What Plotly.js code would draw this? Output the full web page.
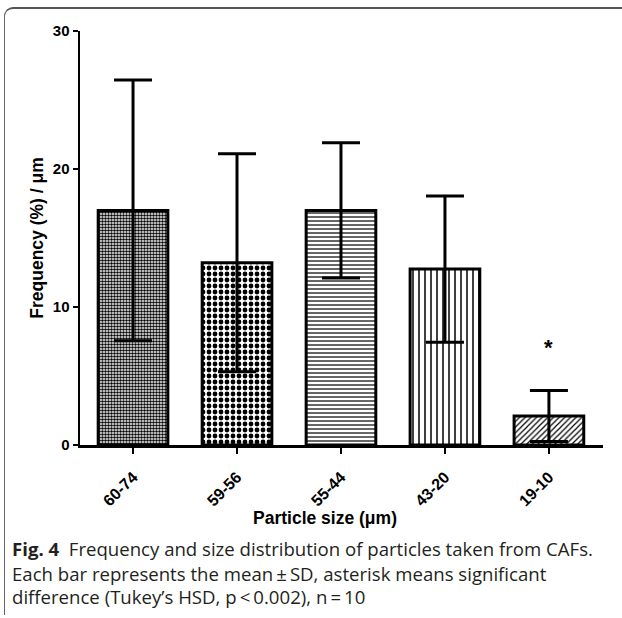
<!DOCTYPE html>
<html><head><meta charset="utf-8">
<script src="https://cdn.plot.ly/plotly-3.0.1.min.js"></script>
<style>
html,body{margin:0;padding:0;background:#fff;overflow:hidden}
#chart{width:622px;height:618px;position:absolute;left:0;top:0}
#frame{position:absolute;left:4px;top:7px;width:700px;height:606px;border-left:1.5px solid #666;border-top:2px solid #555;border-top-left-radius:9px;pointer-events:none}
</style></head><body>
<div id="chart"></div><div id="frame"></div>
<script>
// ---- data ----
const categories = ['60-74', '59-56', '55-44', '43-20', '19-10'];
const meanFrequency = [17.0, 13.2, 17.0, 12.75, 2.1];
const sdFrequency = [9.45, 7.9, 4.9, 5.3, 1.85];
const yTickValues = [0, 10, 20, 30];
const significantCategory = '19-10';
const significantMarkerY = 7.1;
const xAxisTitle = 'Particle size (\u03bcm)';
const yAxisTitle = 'Frequency (%) / \u03bcm';
const captionLines = [
  '<b>Fig. 4</b>  Frequency and size distribution of particles taken from CAFs.',
  'Each bar represents the mean\u2009\u00b1\u2009SD, asterisk means significant',
  'difference (Tukey\u2019s HSD, p\u2009<\u20090.002), n\u2009=\u200910'
];

// ---- styles ----
const patternShape = ['.', '.', '-', '|', '/'];
const patternSize = [3, 6, 4, 6, 4];
const patternSolidity = [0.55, 0.5, 0.3, 0.25, 0.3];
const fam = 'Liberation Sans, Arial, sans-serif';
const yTickFont = {family: fam, size: 15, color: '#000', weight: 'bold'};
const xTickFont = {family: fam, size: 16, color: '#000', weight: 'bold'};
const titleFont = {family: fam, size: 17.5, color: '#000', weight: 'bold'};
const captionFont = {family: 'Open Sans, sans-serif', size: 18.6, color: '#231f20'};

const trace = {
  type: 'bar',
  x: categories,
  y: meanFrequency,
  width: 0.67,
  marker: {
    color: '#fff',
    line: {color: '#000', width: 3},
    pattern: {shape: patternShape, size: patternSize, solidity: patternSolidity,
              fgcolor: '#000', bgcolor: '#fff', fillmode: 'replace'}
  },
  error_y: {type: 'data', array: sdFrequency, visible: true, color: '#000', thickness: 3, width: 19},
  hoverinfo: 'skip'
};

const captionY = [-0.2488, -0.3092, -0.3671];
const annotations = captionLines.map((t, i) => ({
  xref: 'paper', yref: 'paper', x: -0.1338, y: captionY[i],
  xanchor: 'left', yanchor: 'middle', showarrow: false, align: 'left',
  text: t, font: captionFont
}));
annotations.push({
  xref: 'paper', yref: 'paper', x: 0.4685, y: -0.1763,
  xanchor: 'center', yanchor: 'middle', showarrow: false,
  text: xAxisTitle, font: titleFont
});
annotations.push({
  xref: 'x', yref: 'y', x: significantCategory, y: significantMarkerY,
  text: '*', showarrow: false, font: {family: fam, size: 22, color: '#000', weight: 'bold'}
});

const layout = {
  width: 622, height: 618,
  margin: {l: 80, r: 19, t: 31, b: 173},
  paper_bgcolor: '#fff', plot_bgcolor: '#fff',
  showlegend: false,
  xaxis: {
    type: 'category', range: [-0.51, 4.52],
    showline: true, linewidth: 2.5, linecolor: '#000',
    ticks: 'outside', ticklen: 6, tickwidth: 2, tickcolor: '#000',
    tickangle: -45, tickfont: xTickFont, ticklabelstandoff: 8,
    showgrid: false, zeroline: false, automargin: false
  },
  yaxis: {
    range: [0, 30], tickvals: yTickValues,
    showline: true, linewidth: 2.5, linecolor: '#000',
    ticks: 'outside', ticklen: 5, tickwidth: 2, tickcolor: '#000',
    tickfont: yTickFont,
    showgrid: false, zeroline: false, automargin: false,
    title: {text: yAxisTitle, font: titleFont, standoff: 5}
  },
  annotations: annotations
};

Plotly.newPlot('chart', [trace], layout, {displayModeBar: false, staticPlot: true});
</script>
</body></html>
